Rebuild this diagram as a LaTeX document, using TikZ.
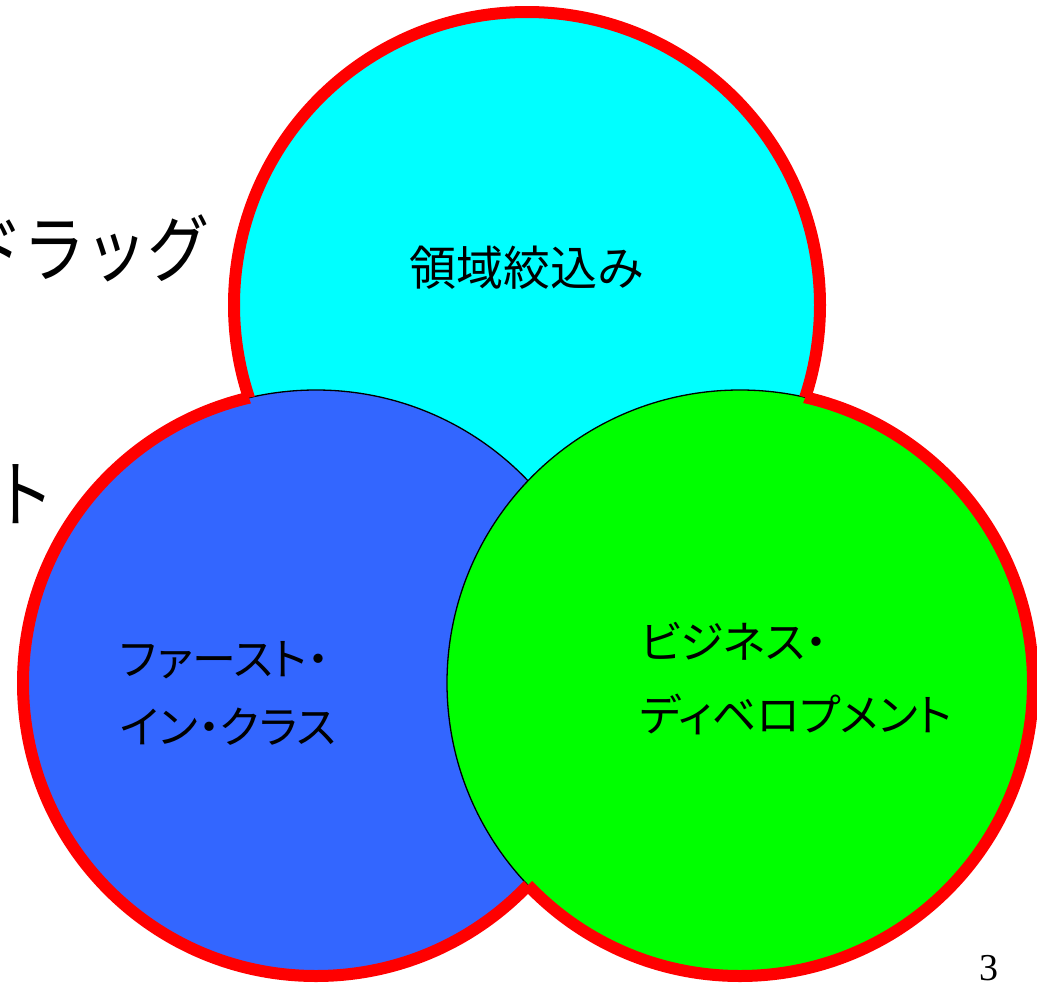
\documentclass[tikz,border=0pt]{standalone}
\usepackage{fontspec}
\setmainfont{Liberation Serif}
\newfontfamily\jp{Noto Sans CJK JP}
\newfontfamily\jpp[RawFeature=+palt]{Noto Sans CJK JP}
\definecolor{cyanfill}{RGB}{0,255,255}
\definecolor{bluefill}{RGB}{51,102,255}
\definecolor{greenfill}{RGB}{0,255,0}
\definecolor{rimred}{RGB}{255,0,0}
\tikzset{
  disc/.style={draw=black, line width=1.3pt},
  rim/.style={draw=rimred, line width=12pt},
  biglabel/.style={font=\jp\fontsize{64}{80}\selectfont, inner sep=0pt, xscale=0.97, yscale=1.15, transform shape},
  toplabel/.style={font=\jp\fontsize{47}{56}\selectfont, inner sep=0pt},
  kanalabel/.style={font=\jpp\fontsize{44}{68}\selectfont, inner sep=0pt, align=left, anchor=west},
}
\begin{document}
\begin{tikzpicture}[x=1pt,y=-1pt]
\useasboundingbox (0,0) rectangle (1037,983);
\fill[white] (0,0) rectangle (1037,983);
\coordinate (c) at (527,305);
\coordinate (b) at (316,683);
\coordinate (g) at (740,683);
% partial background text at left
\node[biglabel, anchor=east] (drag) at (210,248) {ドラッグ};
\node[biglabel] (to) at (24,494) {ト};
% discs
\path[disc, fill=cyanfill] (c) circle[radius=293pt];
\path[disc, fill=bluefill] (b) circle[radius=293pt];
\path[disc, fill=greenfill] (g) circle[radius=293pt];
% red outline of the union
\begin{scope}[even odd rule]
  \clip (-60,-60) rectangle (1100,1050) (b) circle[radius=293pt];
  \clip (-60,-60) rectangle (1100,1050) (g) circle[radius=293pt];
  \path[rim] (c) circle[radius=293pt];
\end{scope}
\begin{scope}[even odd rule]
  \clip (-60,-60) rectangle (1100,1050) (c) circle[radius=293pt];
  \clip (-60,-60) rectangle (1100,1050) (g) circle[radius=293pt];
  \path[rim] (b) circle[radius=293pt];
\end{scope}
\begin{scope}[even odd rule]
  \clip (-60,-60) rectangle (1100,1050) (c) circle[radius=293pt];
  \clip (-60,-60) rectangle (1100,1050) (b) circle[radius=293pt];
  \path[rim] (g) circle[radius=293pt];
\end{scope}
% labels
\node[toplabel] (area) at (527,268) {領域絞込み};
\node[kanalabel] (first) at (120,693) {ファースト・\\イン・クラス};
\node[kanalabel, font=\jpp\fontsize{44}{73}\selectfont] (biz) at (640,679) {ビジネス・\\ディベロプメント};
\node[font=\fontsize{38}{40}\selectfont, inner sep=0pt] (page) at (989,968) {3};
\end{tikzpicture}
\end{document}
